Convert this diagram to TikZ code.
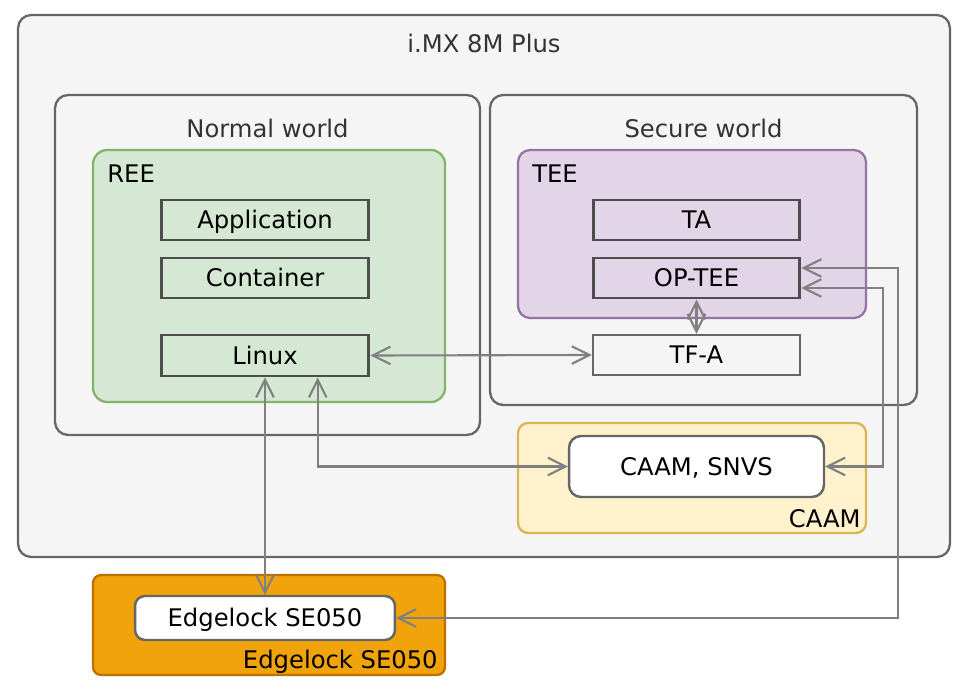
\documentclass[tikz,border=0pt]{standalone}
\usepackage{fontspec}
\setmainfont{DejaVu Sans}
\definecolor{boxgray}{HTML}{F5F5F5}
\definecolor{linegray}{HTML}{666666}
\definecolor{textgray}{HTML}{333333}
\definecolor{arrowgray}{HTML}{808080}
\definecolor{darkline}{HTML}{4D4D4D}
\definecolor{reefill}{HTML}{D5E8D4}
\definecolor{reeline}{HTML}{82B366}
\definecolor{teefill}{HTML}{E1D5E7}
\definecolor{teeline}{HTML}{9673A6}
\definecolor{caamfill}{HTML}{FFF2CC}
\definecolor{caamline}{HTML}{D6B656}
\definecolor{sefill}{HTML}{F0A30A}
\definecolor{seline}{HTML}{BD7000}
\usetikzlibrary{arrows.meta, calc}

\begin{document}
\begin{tikzpicture}[x=0.02cm, y=-0.02cm,
    every node/.style={font=\fontsize{13.8}{16}\selectfont, inner sep=0pt},
    region/.style={draw=linegray, line width=1.3pt, fill=boxgray, rounded corners=0.26cm},
    title/.style={anchor=base, color=textgray},
    tag/.style={anchor=base west},
    part/.style={draw=darkline, line width=1.7pt, minimum width=4.16cm, minimum height=0.8cm,
                 text height=1em, text depth=0pt},
    conn/.style={draw=arrowgray, line width=1.2pt, {Straight Barb[length=10pt, width=10pt]}-{Straight Barb[length=10pt, width=10pt]}}]
      \useasboundingbox (0,0) rectangle (967,689);

      % SoC
      \node[region, minimum width=18.64cm, minimum height=10.84cm] (imx) at (484,286) {};
      \node[title] at (484,53) {i.MX 8M Plus};

      % Normal world
      \node[region, minimum width=8.5cm, minimum height=6.8cm] (normal) at (267.5,265) {};
      \node[title] at (267.5,138) {Normal world};
      \node[draw=reeline, line width=1.3pt, fill=reefill, rounded corners=0.28cm,
            minimum width=7.04cm, minimum height=5.04cm] (ree) at (269,276) {};
      \node[tag] at (107,183) {REE};
      \node[part] (app) at (265,220) {Application};
      \node[part] (cont) at (265,278) {Container};
      \node[part, minimum height=0.82cm] (linux) at (265,355.5) {Linux};

      % Secure world
      \node[region, minimum width=8.54cm, minimum height=6.2cm] (secure) at (703.5,250) {};
      \node[title] at (703.5,138) {Secure world};
      \node[draw=teeline, line width=1.3pt, fill=teefill, rounded corners=0.24cm,
            minimum width=6.96cm, minimum height=3.36cm] (tee) at (692,234) {};
      \node[tag] at (532,183) {TEE};
      \node[part, minimum width=4.14cm] (ta) at (696.5,220) {TA};
      \node[part, minimum width=4.14cm] (optee) at (696.5,278) {OP-TEE};
      \node[part, minimum width=4.14cm, draw=linegray, line width=1.4pt] (tfa) at (696.5,355) {TF-A};

      % CAAM
      \node[draw=caamline, line width=1.3pt, fill=caamfill, rounded corners=0.2cm,
            minimum width=6.96cm, minimum height=2.2cm] (caamreg) at (692,478) {};
      \node[anchor=base east] at (861,527) {CAAM};
      \node[draw=linegray, line width=1.4pt, fill=white, rounded corners=0.24cm,
            minimum width=5.1cm, minimum height=1.22cm, text height=1em, text depth=0pt] (caam) at (696.5,466.5) {CAAM, SNVS};

      % Secure element
      \node[draw=seline, line width=1.3pt, fill=sefill, rounded corners=0.16cm,
            minimum width=7.04cm, minimum height=2cm] (sereg) at (269,625) {};
      \node[anchor=base east] at (438,668) {Edgelock SE050};
      \node[draw=linegray, line width=1.4pt, fill=white, rounded corners=0.2cm,
            minimum width=5.2cm, minimum height=0.88cm, text height=1em, text depth=0pt] (se) at (265,618) {Edgelock SE050};

      % Connections
      \coordinate (busA) at (898,0);
      \coordinate (busB) at (883,0);
      \draw[conn] (linux.east) -- (tfa.west);
      \draw[conn] (optee.south) -- (tfa.north);
      \draw[conn] (linux.south) -- (se.north);
      \draw[conn] ($(linux.south)!0.5!(linux.south east)$) |- (caam.west);
      \draw[conn] ([yshift=0.2cm]optee.east) -- ([yshift=0.2cm]optee.east -| busA) |- (se.east);
      \draw[conn] ([yshift=-0.2cm]optee.east) -- ([yshift=-0.2cm]optee.east -| busB) |- (caam.east);
\end{tikzpicture}
\end{document}
